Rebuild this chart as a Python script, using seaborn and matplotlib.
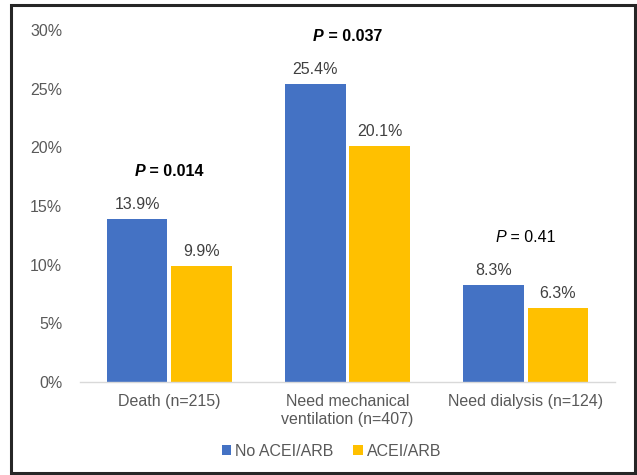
import matplotlib
matplotlib.use("Agg")
import matplotlib.pyplot as plt
from matplotlib.patches import Rectangle
from matplotlib.offsetbox import TextArea, HPacker, AnnotationBbox
from matplotlib.ticker import PercentFormatter
import seaborn as sns
import pandas as pd

categories = ["Death (n=215)", "Need mechanical\nventilation (n=407)", "Need dialysis (n=124)"]
groups = ["No ACEI/ARB", "ACEI/ARB"]
no_acei = [13.9, 25.4, 8.3]
acei = [9.9, 20.1, 6.3]
p_values = ["0.014", "0.037", "0.41"]
p_bold = [True, True, False]
y_ticks = [0, 5, 10, 15, 20, 25, 30]

df = pd.DataFrame({
    "outcome": categories * 2,
    "group": [groups[0]] * 3 + [groups[1]] * 3,
    "pct": no_acei + acei,
})

sns.set_theme(style="white")
plt.rcParams["font.family"] = ["Liberation Sans", "DejaVu Sans"]

fig = plt.figure(figsize=(6.37, 4.75), dpi=100)
ax = fig.add_axes([0.126, 0.196, 0.839, 0.741])

palette = {groups[0]: "#4472C4", groups[1]: "#FFC000"}
sns.barplot(data=df, x="outcome", y="pct", hue="group", hue_order=groups,
            palette=palette, width=0.725, gap=0.06, saturation=1,
            edgecolor="none", ax=ax, legend=True)

FS = 11.5

ax.set_ylim(0, 30)
ax.set_xlim(-0.5, 2.5)
ax.set_yticks(y_ticks)
ax.yaxis.set_major_formatter(PercentFormatter(decimals=0))
ax.set_xlabel("")
ax.set_ylabel("")
for s in ["top", "right", "left"]:
    ax.spines[s].set_visible(False)
ax.spines["bottom"].set_color("#D9D9D9")
ax.spines["bottom"].set_linewidth(1.0)
ax.tick_params(axis="both", length=0, labelsize=FS, colors="#595959")
ax.tick_params(axis="y", pad=13)
ax.tick_params(axis="x", pad=9)

# value labels above each bar
for cont in ax.containers:
    ax.bar_label(cont, labels=[f"{v:.1f}%" for v in cont.datavalues],
                 padding=5, fontsize=FS, color="#404040")

# p-value annotations above each outcome group
for i, (pv, bold) in enumerate(zip(p_values, p_bold)):
    top = max(no_acei[i], acei[i])
    weight = "bold" if bold else "normal"
    p_part = TextArea("P", textprops=dict(fontsize=FS, style="italic",
                                          weight=weight, color="black"))
    v_part = TextArea(f" = {pv}", textprops=dict(fontsize=FS, weight=weight,
                                                 color="black"))
    box = HPacker(children=[p_part, v_part], align="baseline", pad=0, sep=0)
    ab = AnnotationBbox(box, (i, top), xybox=(0, 34), xycoords="data",
                        boxcoords="offset points", frameon=False,
                        box_alignment=(0.5, 0.5))
    ax.add_artist(ab)

leg = ax.legend(loc="lower center", bbox_to_anchor=(0.47, -0.26), ncol=2,
                frameon=False, fontsize=FS, handlelength=0.6,
                handleheight=0.6, handletextpad=0.25, columnspacing=1.2)
for t in leg.get_texts():
    t.set_color("#595959")

# outer frame
fig.patches.append(Rectangle((11 / 637, 2 / 475), 624 / 637, 468 / 475,
                             transform=fig.transFigure, fill=False,
                             edgecolor="#262626", linewidth=2.2))

fig.savefig("out.png", dpi=100, facecolor="white")
